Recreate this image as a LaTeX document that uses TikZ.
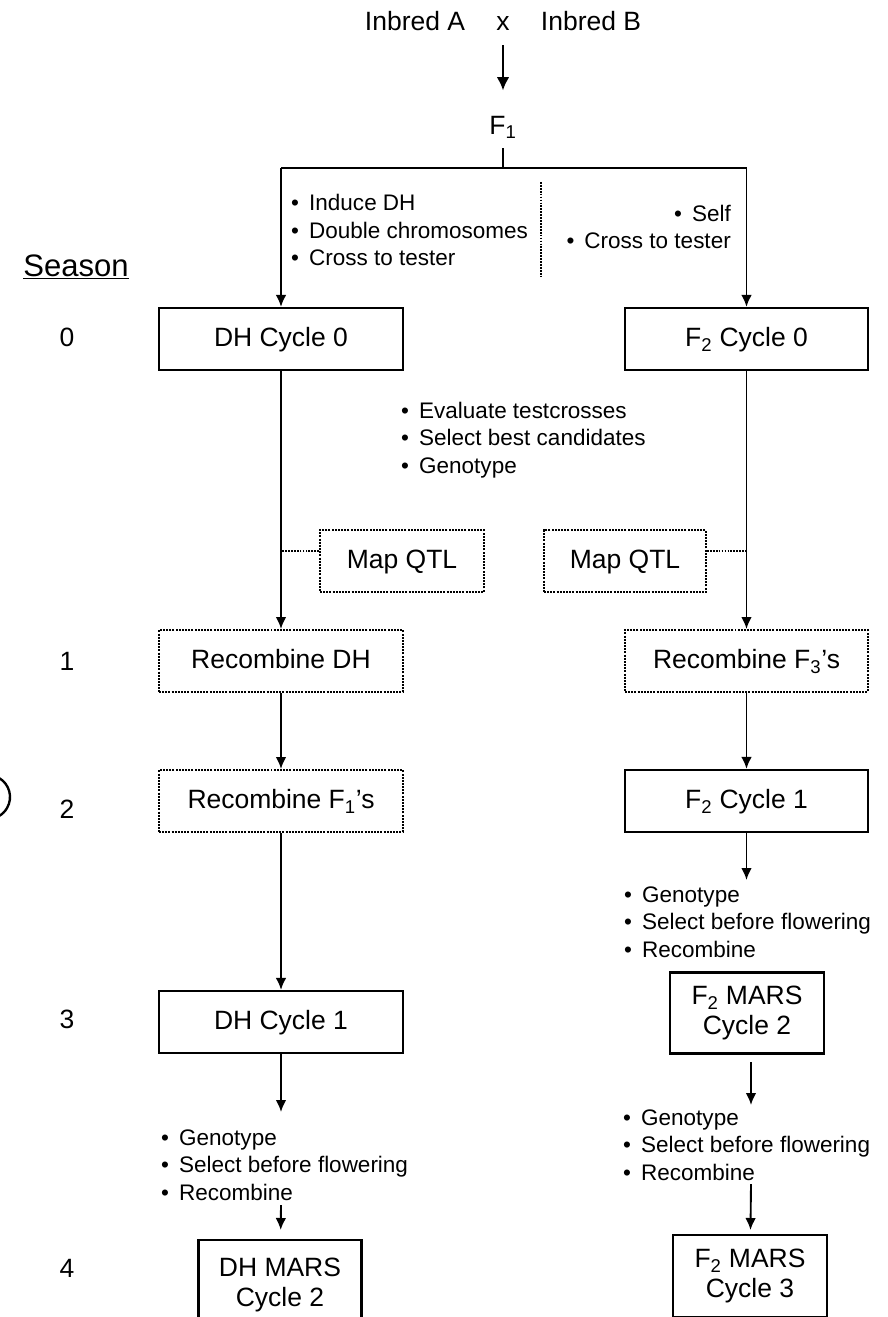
\documentclass[tikz,border=0pt]{standalone}
\usepackage{fontspec}
\setmainfont{Liberation Sans}
\usetikzlibrary{arrows.meta}
\usetikzlibrary{calc}

\newcommand{\bl}{\textbullet\hspace{0.45em}}

\begin{document}
\begin{tikzpicture}[x=0.03cm, y=-0.03cm,
    every node/.style={inner sep=0pt, font=\fontsize{22.6}{25.5}\selectfont},
    solidbox/.style={draw, line width=1.9pt, minimum width=7.32cm, minimum height=1.86cm, text height=16pt, text depth=3pt},
    dotbox/.style={draw, line width=1.7pt, densely dotted, minimum width=7.32cm, minimum height=1.86cm, text height=16pt, text depth=3pt},
    marsbox/.style={draw, line width=1.9pt, align=center, minimum width=4.62cm},
    bullets/.style={align=left, font=\fontsize{19.2}{23.5}\selectfont},
    conn/.style={line width=1.6pt, -{Latex[length=0.36cm, width=0.32cm]}},
    dotline/.style={line width=1.5pt, densely dotted}]

    \useasboundingbox (0,0) rectangle (887,1317);
    \clip (0,0) rectangle (887,1317);

    % the cross
    \node [anchor=base] (inbredA) at (415, 31) {Inbred A};
    \node [anchor=base] (cross) at (503, 31) {x};
    \node [anchor=base] (inbredB) at (591, 31) {Inbred B};
    \node [anchor=base] (f1) at (503, 134) {F\textsubscript{1}};
    \draw [line width=2.2pt, -{Latex[length=0.4cm, width=0.38cm]}, shorten <=0.42cm, shorten >=0.75cm] (cross) -- (f1);

    \coordinate (f1b) at (503, 148);
    \coordinate (split) at (503, 168);
    \coordinate (bL) at (281, 168);
    \coordinate (bR) at (746.5, 168);
    \draw [line width=2pt] (f1b) -- (split);
    \draw [line width=2.4pt] (bL) -- (bR);

    \node [bullets, anchor=west] (induce) at (291, 230) {\bl Induce DH\\\bl Double chromosomes\\\bl Cross to tester};
    \node [bullets, anchor=east, align=right] (selfing) at (731, 227) {\bl Self\\\bl Cross to tester};
    \draw [dotline, line width=1.2pt] (541, 182) -- (541, 276);

    \node [font=\fontsize{26.5}{30}\selectfont] (season) at (76, 267) {\underline{Season}};

    % season numbers
    \node (s0) at (67, 337) {0};
    \node (s1) at (67, 661) {1};
    \node (s2) at (67, 809) {2};
    \node (s3) at (67, 1019) {3};
    \node (s4) at (67, 1268) {4};

    % boxes
    \node [solidbox] (dh0) at (281, 339) {DH Cycle 0};
    \node [solidbox, minimum width=7.29cm] (f20) at (746.5, 339) {F\textsubscript{2} Cycle 0};
    \draw [conn] (bL) -- (dh0);
    \draw [conn] (bR) -- (f20);

    \node [bullets, anchor=west] (evaluate) at (401, 440) {\bl Evaluate testcrosses\\\bl Select best candidates\\\bl Genotype};

    \node [dotbox, minimum width=4.92cm] (mapL) at (402, 561) {Map QTL};
    \node [dotbox, minimum width=4.86cm] (mapR) at (625, 561) {Map QTL};

    \node [dotbox] (recDH) at (281, 661) {Recombine DH};
    \node [dotbox, minimum width=7.29cm] (recF3) at (746.5, 661) {Recombine F\textsubscript{3}’s};
    \draw [conn] (dh0) -- (recDH);
    \draw [conn] (f20) -- (recF3);
    \draw [dotline] ([yshift=0.3cm]mapL.west) -- ([yshift=0.3cm]mapL.west -| dh0.south);
    \draw [dotline] ([yshift=0.3cm]mapR.east) -- ([yshift=0.3cm]mapR.east -| f20.south);

    \node [dotbox] (recF1) at (281, 801) {Recombine F\textsubscript{1}’s};
    \node [solidbox, minimum width=7.29cm] (f21) at (746.5, 801) {F\textsubscript{2} Cycle 1};
    \draw [conn] (recDH) -- (recF1);
    \draw [conn] (recF3) -- (f21);

    \node [solidbox] (dh1) at (281, 1022) {DH Cycle 1};
    \draw [conn] (recF1) -- (dh1);

    \coordinate (g1) at (746.5, 880);
    \draw [conn] (f21) -- (g1);
    \node [bullets, anchor=west] (selR1) at (624, 922) {\bl Genotype\\\bl Select before flowering\\\bl Recombine};
    \node [marsbox, minimum height=2.43cm] (mars2) at (747, 1013) {F\textsubscript{2} MARS\\Cycle 2};

    \coordinate (g2) at (281, 1112);
    \coordinate (g3) at (281, 1205);
    \draw [conn] (dh1) -- (g2);
    \node [bullets, anchor=west] (selL) at (161, 1165) {\bl Genotype\\\bl Select before flowering\\\bl Recombine};
    \node [marsbox, minimum width=4.89cm, minimum height=2.7cm, anchor=north] (dhmars) at (280, 1239) {DH MARS\\Cycle 2};
    \draw [conn, shorten >=0.27cm] (g3) -- (dhmars);

    \coordinate (g4) at (751, 1062);
    \coordinate (g5) at (751, 1105);
    \coordinate (g6) at (751, 1184);
    \draw [conn] (g4) -- (g5);
    \node [bullets, anchor=west] (selR2) at (623, 1145) {\bl Genotype\\\bl Select before flowering\\\bl Recombine};
    \node [marsbox, minimum height=2.46cm, anchor=north] (mars3) at (750, 1234) {F\textsubscript{2} MARS\\Cycle 3};
    \draw [conn, shorten >=0.12cm] (g6) -- (mars3);

    % cropped mark at the left edge
    \draw [line width=2pt] (-12, 797) ++(-60:22) arc (-60:60:22);

\end{tikzpicture}
\end{document}
